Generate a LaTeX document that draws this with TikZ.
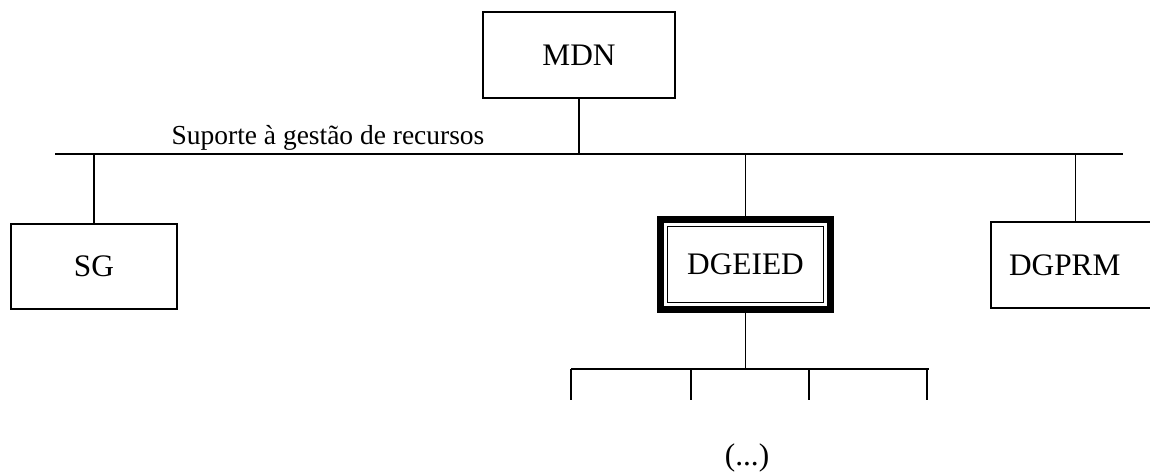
\documentclass[tikz,border=0pt]{standalone}
\usepackage{fontspec}
\setmainfont{Liberation Serif}

\begin{document}
\begin{tikzpicture}[x=0.75pt,y=-0.75pt,
  unit/.style={draw,line width=1.4pt,inner sep=0pt,outer sep=0pt,
    minimum height=64.5pt,font=\fontsize{23.5}{28}\selectfont},
  link/.style={line width=1.3pt}]
  \useasboundingbox (0,0) rectangle (1150,474);
  % top of the chart
  \node[unit,minimum width=144pt] (mdn) at (579,55) {MDN};
  \coordinate (busL) at (55,154);
  \coordinate (busR) at (1123,154);
  \draw[link] (busL) -- (busR);
  \draw[link] (mdn.south) -- (mdn.south |- busL);
  \node[anchor=base,font=\fontsize{20.6}{24}\selectfont] (cap) at (328,145)
    {Suporte à gestão de recursos};
  % units under the bus
  \node[unit,minimum width=124.5pt,minimum height=63.75pt] (sg) at (94,266.5) {SG};
  \node[unit,line width=5.25pt,minimum width=127.5pt,minimum height=67.5pt]
    (dgeied) at (745.5,264.5) {DGEIED};
  \draw[line width=0.9pt] ([shift={(5.25pt,-5.25pt)}]dgeied.north west)
    rectangle ([shift={(-5.25pt,5.25pt)}]dgeied.south east);
  \node[unit,minimum width=126.75pt,inner xsep=13.5pt,text width=99.75pt,align=left]
    (dgprm) at (1075.5,265) {DGPRM};
  \foreach \n in {sg,dgeied,dgprm} {
    \draw[link] (\n.north |- busL) -- (\n.north);
  }
  % services of the DGEIED
  \coordinate (subL) at (571,369);
  \coordinate (subR) at (929,369);
  \draw[link] (dgeied.south) -- (dgeied.south |- subL);
  \draw[link] (subL) -- (subR);
  \foreach \x [count=\i] in {571,691,809,927} {
    \coordinate (t\i) at (\x,400);
    \draw[link,line width=1.6pt] (t\i |- subL) -- (t\i);
  }
  \node[font=\fontsize{23.5}{28}\selectfont] (more) at (747,458) {(...)};
\end{tikzpicture}
\end{document}
